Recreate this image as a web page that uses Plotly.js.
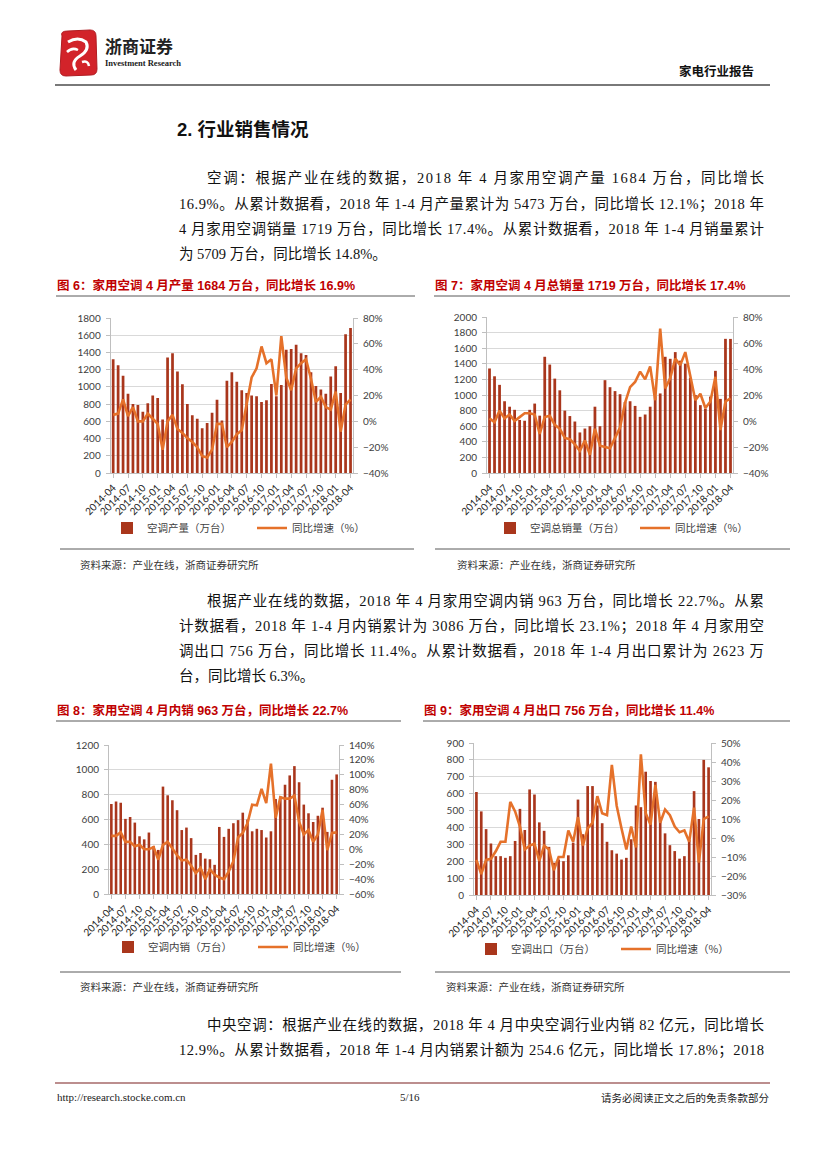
<!DOCTYPE html>
<html><head><meta charset="utf-8">
<script src="https://cdn.plot.ly/plotly-3.0.1.min.js"></script>
<style>html,body{margin:0;padding:0;background:#fff;}#page{width:827px;height:1169px;}</style>
</head><body><div id="page"></div>
<script>
// ---------- data ----------
const months = ["2014-04","2014-05","2014-06","2014-07","2014-08","2014-09","2014-10","2014-11","2014-12",
"2015-01","2015-02","2015-03","2015-04","2015-05","2015-06","2015-07","2015-08","2015-09","2015-10","2015-11","2015-12",
"2016-01","2016-02","2016-03","2016-04","2016-05","2016-06","2016-07","2016-08","2016-09","2016-10","2016-11","2016-12",
"2017-01","2017-02","2017-03","2017-04","2017-05","2017-06","2017-07","2017-08","2017-09","2017-10","2017-11","2017-12",
"2018-01","2018-02","2018-03","2018-04"];
const tickLabels = ["2014-04","2014-07","2014-10","2015-01","2015-04","2015-07","2015-10","2016-01","2016-04",
"2016-07","2016-10","2017-01","2017-04","2017-07","2017-10","2018-01","2018-04"];

const prodVolume = [1320,1250,1130,920,800,790,710,810,900,870,620,1340,
 1390,1180,1030,800,670,630,520,580,700,850,610,1070,
 1170,1060,960,930,900,890,825,844,1034,890,1022,1430,
 1440,1490,1390,1370,1170,1010,970,920,1120,1240,930,1610,1684];
const prodYoY = [5,6,17,4,11,0,0,6,2,-2,-22,0,
 5,-6,-9,-13,-16,-20,-27,-28,-22,-2,-2,-20,
 -16,-10,-7,14,34,41,58,45,48,20,66,34,
 24,41,45,48,33,15,19,11,9,23,-8,13,16.9];

const salesVolume = [1340,1240,1130,920,850,810,680,670,810,890,735,1490,
 1390,1210,1060,800,730,660,520,570,600,850,600,1190,
 1100,1050,1010,910,920,860,720,750,850,985,1020,1490,
 1464,1550,1440,1400,1220,1000,870,825,980,1310,950,1720,1719];
const salesYoY = [2,-1,8,2,5,0,3,6,6,5,-10,3,
 4,-3,-6,-13,-14,-18,-23,-15,-26,-6,-19,-20,
 -21,-13,-5,14,26,30,38,32,42,16,71,25,
 33,48,43,53,33,16,21,10,15,34,-7,15,17.4];

const domesticVolume = [725,745,735,605,620,575,465,440,495,385,355,865,
 795,755,675,515,535,450,315,330,285,280,235,540,
 460,525,570,595,655,600,505,525,515,455,505,765,
 785,880,955,1030,900,720,650,580,630,695,500,920,963];
const domesticYoY = [18,18,23,10,10,4,6,0,0,3,-14,6,
 10,1,-8,-15,-14,-22,-32,-25,-40,-27,-34,-38,
 -40,-30,-16,16,22,35,60,59,81,62,115,42,
 70,68,68,72,37,20,26,10,20,53,-1,22,22.7];

const exportVolume = [610,495,390,305,230,230,220,230,320,510,385,625,
 595,430,380,285,191,210,200,235,310,565,360,645,
 645,530,425,315,265,245,210,220,330,530,520,730,
 675,670,460,365,295,260,215,230,325,615,450,800,756];
const exportYoY = [-11.5,-19,-11.5,-11,-7,-2,-2,19,14,6,-6,-4,
 -3,-12,-4,-6,-17,-10,-10,4,-2,11,-4,5,
 8,22,13,12,38.5,17,5,-6,6,-5,44,13,
 7,28,8,15,12,6,3,4,-2,16,-13,10,11.4];

const legendNames = {
  prod: ["空调产量（万台）","同比增速（%）"],
  sales: ["空调总销量（万台）","同比增速（%）"],
  dom: ["空调内销（万台）","同比增速（%）"],
  exp: ["空调出口（万台）","同比增速（%）"]
};

// ---------- layout helpers ----------
const W = 827, H = 1169;
const px = x => x / W;
const py = y => 1 - y / H;
const BAR = '#A9361C', LINE = '#E5712A';
const CJK = '"Noto Sans CJK SC", sans-serif';
const SERIF = '"Liberation Serif", "Noto Sans CJK SC", serif';
const TICK = 'Lato, "Liberation Sans", sans-serif';

function pair(xa, ya, ya2, vol, yoy, names, lg) {
  return [
    {type:'bar', x: months, y: vol, xaxis: xa, yaxis: ya, name: names[0],
     marker:{color: BAR}, legend: lg, hoverinfo:'skip'},
    {type:'scatter', mode:'lines', x: months, y: yoy, xaxis: xa, yaxis: ya2, name: names[1],
     line:{color: LINE, width: 2.6}, legend: lg, hoverinfo:'skip'}
  ];
}
const data = [].concat(
  pair('x','y','y2', prodVolume, prodYoY, legendNames.prod, 'legend'),
  pair('x2','y3','y4', salesVolume, salesYoY, legendNames.sales, 'legend2'),
  pair('x3','y5','y6', domesticVolume, domesticYoY, legendNames.dom, 'legend3'),
  pair('x4','y7','y8', exportVolume, exportYoY, legendNames.exp, 'legend4')
);

function xAxis(x0, x1, anchor) {
  return {domain:[px(x0), px(x1)], anchor: anchor, type:'category', range:[-0.5, 48.5],
    tickmode:'array', tickvals: tickLabels, ticktext: tickLabels, tickangle:-45,
    tickfont:{family: TICK, size: 10, color:'#1a1a1a'},
    showline:true, linecolor:'#bfbfbf', linewidth:1, ticks:'outside', ticklen:4, tickcolor:'#bfbfbf',
    showgrid:false, zeroline:false, fixedrange:true};
}
function yLeft(y0, y1, anchor, max, dt) {
  return {domain:[py(y1), py(y0)], anchor: anchor, range:[0, max], dtick: dt, tick0:0,
    showgrid:true, gridcolor:'#d9d9d9', gridwidth:1, zeroline:false,
    showline:true, linecolor:'#bfbfbf', ticks:'outside', ticklen:4, tickcolor:'#bfbfbf',
    ticklabelstandoff:3, tickfont:{family: TICK, size:10, color:'#404040'}, fixedrange:true};
}
function yRight(over, anchor, lo, hi, dt) {
  return {overlaying: over, anchor: anchor, side:'right', range:[lo, hi], dtick: dt, tick0: 0,
    ticksuffix:'%', showgrid:false, zeroline:false,
    showline:true, linecolor:'#bfbfbf', ticks:'outside', ticklen:4, tickcolor:'#bfbfbf',
    ticklabelstandoff:3, tickfont:{family: TICK, size:10, color:'#404040'}, fixedrange:true};
}
function legend(x, y) {
  return {orientation:'h', x: px(x), y: py(y), xanchor:'left', yanchor:'middle',
    font:{family: CJK, size: 10.5, color:'#404040'}, bgcolor:'rgba(0,0,0,0)',
    itemwidth: 30, entrywidth: 100, traceorder:'normal'};
}

// ---------- annotations ----------
const ann = [];
const justify = [];
function txt(x, y, text, opt) {
  opt = opt || {};
  ann.push({xref:'paper', yref:'paper', x: px(x), y: py(y), text: text, showarrow:false,
    xanchor: opt.anchor || 'left', yanchor:'middle', align:'left', borderpad:0,
    font:{family: opt.family || SERIF, size: opt.size || 14.5, color: opt.color || '#111'}});
  if (opt.justify) justify.push({i: ann.length - 1, left: x, right: opt.justify});
}
const JR = {justify: 763};
// header
txt(104, 46, '<b>浙商证券</b>', {family:'"Noto Sans CJK SC", serif', size: 17, color:'#222'});
txt(104, 63, '<b>Investment Research</b>', {family:'"Liberation Serif", serif', size: 8.5, color:'#222'});
txt(755, 70, '<b>家电行业报告</b>', {family: CJK, size: 12.5, color:'#111', anchor:'right'});
// section title
txt(176, 130, '<b>2. 行业销售情况</b>', {family:'"Liberation Sans", "Noto Sans CJK SC", sans-serif', size: 18.5, color:'#111'});
// paragraph 1
txt(206, 178, '空调：根据产业在线的数据，2018 年 4 月家用空调产量 1684 万台，同比增长', JR);
txt(178, 204, '16.9%。从累计数据看，2018 年 1-4 月产量累计为 5473 万台，同比增长 12.1%；2018 年', JR);
txt(178, 229, '4 月家用空调销量 1719 万台，同比增长 17.4%。从累计数据看，2018 年 1-4 月销量累计', JR);
txt(178, 254, '为 5709 万台，同比增长 14.8%。');
// figure titles
const TF = {family:'"Liberation Sans", "Noto Sans CJK SC", sans-serif', size: 12.5, color:'#C00000'};
txt(56, 285, '<b>图 6：家用空调 4 月产量 1684 万台，同比增长 16.9%</b>', TF);
txt(434, 285, '<b>图 7：家用空调 4 月总销量 1719 万台，同比增长 17.4%</b>', TF);
txt(56, 710, '<b>图 8：家用空调 4 月内销 963 万台，同比增长 22.7%</b>', TF);
txt(423, 710, '<b>图 9：家用空调 4 月出口 756 万台，同比增长 11.4%</b>', TF);
// sources
const SF = {family: CJK, size: 10.5, color:'#333'};
txt(79, 564, '资料来源：产业在线，浙商证券研究所', SF);
txt(456, 564, '资料来源：产业在线，浙商证券研究所', SF);
txt(79, 986, '资料来源：产业在线，浙商证券研究所', SF);
txt(445, 986, '资料来源：产业在线，浙商证券研究所', SF);
// paragraph 2
txt(206, 601, '根据产业在线的数据，2018 年 4 月家用空调内销 963 万台，同比增长 22.7%。从累', JR);
txt(178, 626, '计数据看，2018 年 1-4 月内销累计为 3086 万台，同比增长 23.1%；2018 年 4 月家用空', JR);
txt(178, 651, '调出口 756 万台，同比增长 11.4%。从累计数据看，2018 年 1-4 月出口累计为 2623 万', JR);
txt(178, 676, '台，同比增长 6.3%。');
// paragraph 3
txt(206, 1025, '中央空调：根据产业在线的数据，2018 年 4 月中央空调行业内销 82 亿元，同比增长', JR);
txt(178, 1050, '12.9%。从累计数据看，2018 年 1-4 月内销累计额为 254.6 亿元，同比增长 17.8%；2018', JR);
// footer
txt(56, 1097, 'http://research.stocke.com.cn', {family:'"Liberation Serif", serif', size: 11, color:'#222'});
txt(410, 1097, '5/16', {family:'"Liberation Serif", serif', size: 11, color:'#222', anchor:'center'});
txt(770, 1097, '请务必阅读正文之后的免责条款部分', {family: CJK, size: 10.5, color:'#222', anchor:'right'});

// ---------- shapes ----------
const shapes = [];
function hline(x0, x1, y, color, w) {
  shapes.push({type:'line', xref:'paper', yref:'paper', x0: px(x0), x1: px(x1), y0: py(y), y1: py(y),
    line:{color: color, width: w}});
}
hline(55, 770, 85, '#4d4d4d', 1.5);
hline(56, 415, 296, '#595959', 1);
hline(434, 790, 296, '#595959', 1);
hline(60, 414, 549, '#595959', 1);
hline(435, 790, 549, '#595959', 1);
hline(56, 401, 721, '#595959', 1);
hline(423, 790, 721, '#595959', 1);
hline(60, 401, 972, '#595959', 1);
hline(435, 790, 972, '#595959', 1);
hline(55, 770, 1083, '#7a1f1f', 1.2);
// logo
function P(pts) { return pts.map(p => px(p[0]).toFixed(5) + ',' + py(p[1]).toFixed(5)).join(' '); }
shapes.push({type:'path', xref:'paper', yref:'paper', fillcolor:'#D2232A', line:{color:'#B01C22', width:1},
  path: 'M ' + P([[62,36]]) + ' Q ' + P([[60,31],[68,31]]) + ' L ' + P([[90,30]]) + ' Q ' + P([[96,30],[96,36]]) +
        ' L ' + P([[97,69]]) + ' Q ' + P([[97,75],[91,75]]) + ' L ' + P([[66,76]]) + ' Q ' + P([[60,76],[60,70]]) + ' Z'});
shapes.push({type:'path', xref:'paper', yref:'paper', line:{color:'#ffffff', width:3},
  path: 'M ' + P([[68,42]]) + ' Q ' + P([[78,36],[86,42]]) + ' Q ' + P([[90,50],[80,56]]) + ' Q ' + P([[70,62],[76,70]])});
shapes.push({type:'path', xref:'paper', yref:'paper', line:{color:'#ffffff', width:2.5},
  path: 'M ' + P([[67,52]]) + ' Q ' + P([[72,47],[78,50]]) + ' M ' + P([[82,62]]) + ' Q ' + P([[88,60],[89,66]])});

const layout = {
  width: W, height: H, margin:{l:0, r:0, t:0, b:0}, paper_bgcolor:'#ffffff', plot_bgcolor:'rgba(0,0,0,0)',
  showlegend: true, bargap: 0.45, hovermode: false,
  xaxis: xAxis(110.7, 353, 'y'),
  yaxis: yLeft(318, 473, 'x', 1800, 200),
  yaxis2: yRight('y', 'x', -40, 80, 20),
  xaxis2: xAxis(487, 733, 'y3'),
  yaxis3: yLeft(317, 473, 'x2', 2000, 200),
  yaxis4: yRight('y3', 'x2', -40, 80, 20),
  xaxis3: xAxis(109, 339, 'y5'),
  yaxis5: yLeft(745, 894, 'x3', 1200, 200),
  yaxis6: yRight('y5', 'x3', -60, 140, 20),
  xaxis4: xAxis(474, 711, 'y7'),
  yaxis7: yLeft(743, 895, 'x4', 900, 100),
  yaxis8: yRight('y7', 'x4', -30, 50, 10),
  legend: legend(107, 528),
  legend2: legend(490, 528),
  legend3: legend(108, 947),
  legend4: legend(471, 949),
  annotations: ann,
  shapes: shapes
};
Plotly.newPlot('page', data, layout, {staticPlot: true, displayModeBar: false}).then(function () {
  // stretch full-width body lines so they end flush at the right margin (justified text)
  justify.forEach(function (j) {
    var g = document.querySelector('#page .annotation[data-index="' + j.i + '"]');
    if (!g) return;
    var t = g.querySelector('text');
    if (!t) return;
    var len = t.getComputedTextLength();
    var n = t.textContent.length;
    var extra = (j.right - j.left) - len;
    if (extra > 0 && n > 1) t.style.letterSpacing = (extra / (n - 1)).toFixed(3) + 'px';
  });
});
</script>
</body></html>
